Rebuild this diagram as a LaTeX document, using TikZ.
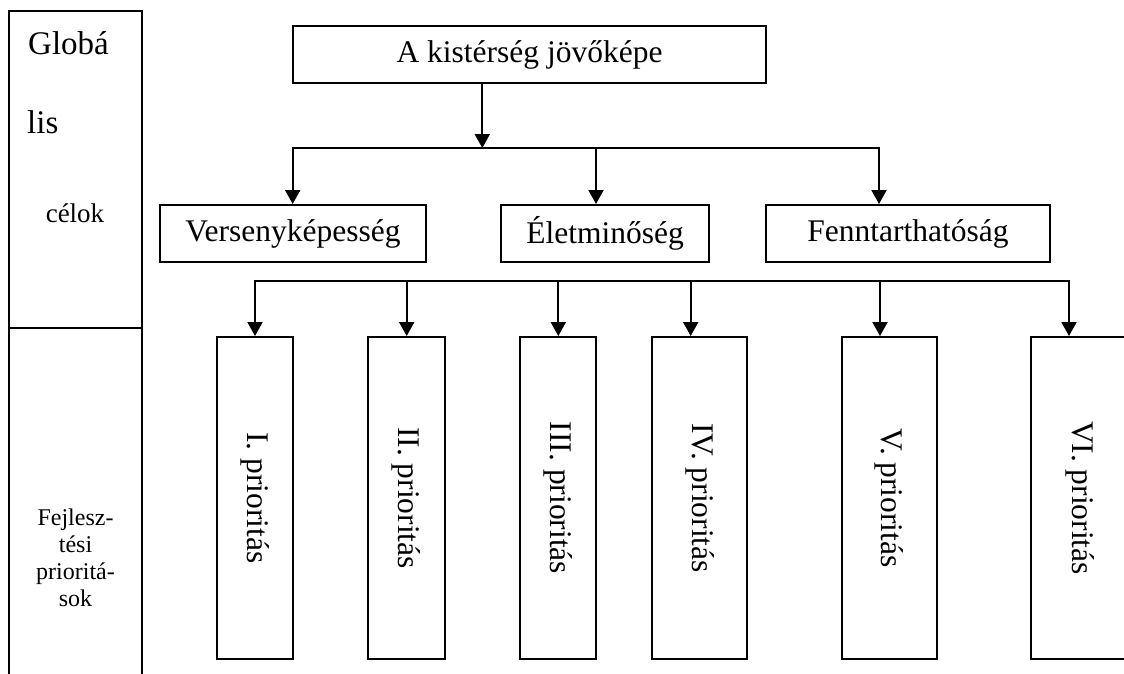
\documentclass[tikz,border=0pt]{standalone}
\usepackage{fontspec}
\setmainfont{Liberation Serif}
\usepackage{graphicx}
\usetikzlibrary{arrows.meta}
\begin{document}
\begin{tikzpicture}[x=1pt,y=-1pt,
  box/.style={draw, line width=2pt, inner sep=0pt, minimum height=57pt, font=\fontsize{31.5}{36}\selectfont},
  pbox/.style={draw, line width=2pt, inner sep=0pt, minimum height=322pt, font=\fontsize{31.5}{36}\selectfont},
  arr/.style={line width=2pt, -{Triangle[width=15pt,length=14pt]}},
  frame/.style={line width=2pt},
  bigtxt/.style={font=\fontsize{33}{36}\selectfont, inner sep=0pt},
  smalltxt/.style={font=\fontsize{24}{27}\selectfont, inner sep=0pt}]
\useasboundingbox (0,0) rectangle (1124,673);
% left column
\draw[frame] (9,680) -- (9,11) -- (142,11) -- (142,680);
\draw[frame] (9,328) -- (142,328);
\node[bigtxt, anchor=base west] (glob) at (28,54) {Globá};
\node[bigtxt, anchor=base west] (lis) at (27,133) {lis};
\node[smalltxt, font=\fontsize{27}{30}\selectfont, anchor=base] (celok) at (75,222) {célok};
\node[smalltxt, align=center] (fej) at (75.5,558) {Fejlesz-\\tési\\prioritá-\\sok};
% top level
\node[box, minimum width=473pt] (top) at (529.5,54.5) {A kistérség jövőképe};
\node[box, minimum width=266pt] (vk) at (293,233.5) {Versenyképesség};
\node[box, minimum width=208pt] (em) at (605,233.5) {Életminőség};
\node[box, minimum width=284pt] (fh) at (908,233.5) {Fenntarthatóság};
\coordinate (j0) at (482.3,148);
\coordinate (b1) at (292.7,148);
\coordinate (b2) at (596,148);
\coordinate (b3) at (879,148);
\draw[arr] (top.south -| j0) -- (j0);
\draw[arr] (b3) -- (b1) -- (b1 |- vk.north);
\draw[arr] (b1) -- (b3) -- (b3 |- fh.north);
\draw[arr] (b2) -- (b2 |- em.north);
% priorities
\node[pbox, minimum width=76.3pt] (p1) at (254.8,498) {\rotatebox{-90}{I. prioritás}};
\node[pbox, minimum width=76.7pt] (p2) at (406.3,498) {\rotatebox{-90}{II. prioritás}};
\node[pbox, minimum width=76.3pt] (p3) at (558.2,498) {\rotatebox{-90}{III. prioritás}};
\node[pbox, minimum width=95pt] (p4) at (699.8,498) {\rotatebox{-90}{IV. prioritás}};
\node[pbox, minimum width=95.3pt] (p5) at (889.3,498) {\rotatebox{-90}{V. prioritás}};
\node[pbox, minimum width=98pt] (p6) at (1080,498) {\rotatebox{-90}{VI. prioritás}};
\coordinate (c1) at (255,281);
\coordinate (c2) at (406.7,281);
\coordinate (c3) at (558.3,281);
\coordinate (c4) at (690.7,281);
\coordinate (c5) at (880,281);
\coordinate (c6) at (1069,281);
\draw[arr] (c6) -- (c1) -- (c1 |- p1.north);
\draw[arr] (c1) -- (c6) -- (c6 |- p6.north);
\draw[arr] (c2) -- (c2 |- p2.north);
\draw[arr] (c3) -- (c3 |- p3.north);
\draw[arr] (c4) -- (c4 |- p4.north);
\draw[arr] (c5) -- (c5 |- p5.north);
\end{tikzpicture}
\end{document}
